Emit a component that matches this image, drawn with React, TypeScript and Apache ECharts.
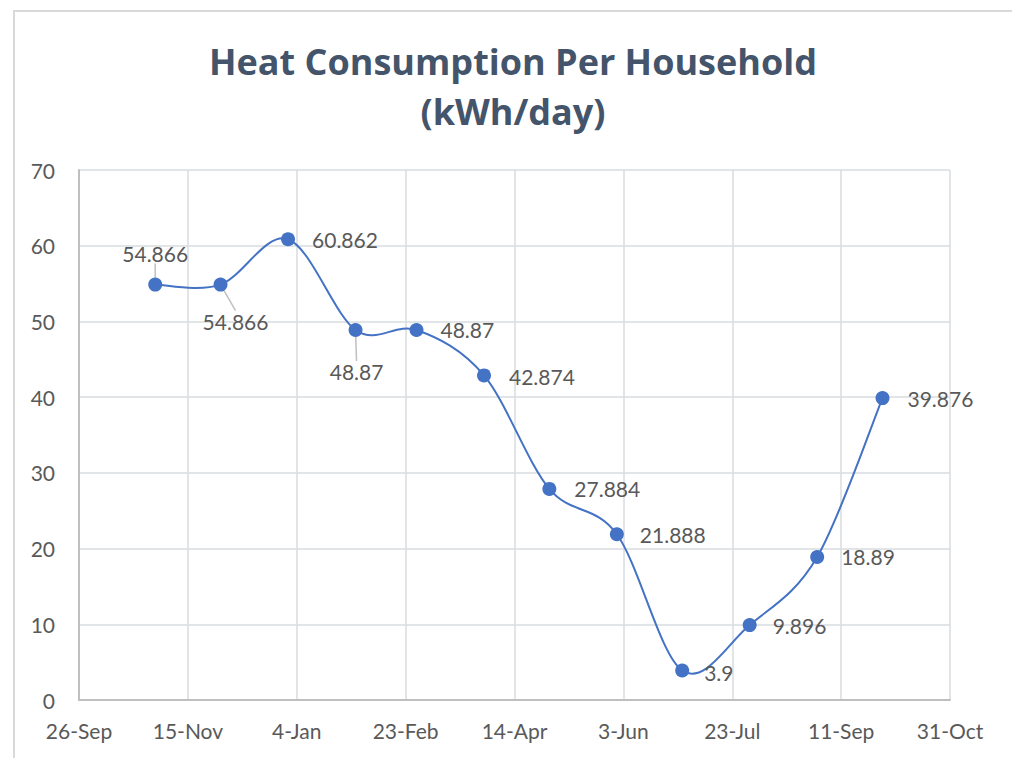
import React, { useEffect, useRef } from "react";
import * as echarts from "echarts";

// ---- data ----
const axisStartDate = "2022-09-26";
const axisTickStepDays = 50;
const axisTickCount = 8;
const readingDates = [
  "2022-10-31", "2022-11-30", "2022-12-31", "2023-01-31", "2023-02-28", "2023-03-31",
  "2023-04-30", "2023-05-31", "2023-06-30", "2023-07-31", "2023-08-31", "2023-09-30",
];
const heatValues = [54.866, 54.866, 60.862, 48.87, 48.87, 42.874, 27.884, 21.888, 3.9, 9.896, 18.89, 39.876];
const yTickValues = [0, 10, 20, 30, 40, 50, 60, 70];
const monthNames = ["Jan", "Feb", "Mar", "Apr", "May", "Jun", "Jul", "Aug", "Sep", "Oct", "Nov", "Dec"];
const titleLines = ["Heat Consumption Per Household", "(kWh/day)"];

// ---- label placement styling (not data) ----
const labelPlacement: { position: string; distance: number; dx: number; dy: number; leader: boolean }[] = [
  { position: "top", distance: 5, dx: 0, dy: -9, leader: true },
  { position: "bottom", distance: 5, dx: 15, dy: 14, leader: true },
  { position: "right", distance: 17, dx: 0, dy: 0, leader: false },
  { position: "bottom", distance: 5, dx: 1, dy: 19, leader: true },
  { position: "right", distance: 17, dx: 0, dy: 0, leader: false },
  { position: "right", distance: 18, dx: 0, dy: 1, leader: false },
  { position: "right", distance: 18, dx: 0, dy: 0, leader: false },
  { position: "right", distance: 16, dx: 0, dy: 0, leader: false },
  { position: "right", distance: 15, dx: 0, dy: 2, leader: false },
  { position: "right", distance: 16, dx: 0, dy: 0, leader: false },
  { position: "right", distance: 17, dx: 0, dy: 0, leader: false },
  { position: "right", distance: 18, dx: 0, dy: 0, leader: false },
];

const DAY = 86400000;
const toUTC = (s: string) => {
  const [y, m, d] = s.split("-").map(Number);
  return Date.UTC(y, m - 1, d);
};
const startMs = toUTC(axisStartDate);
const dayOffset = (s: string) => Math.round((toUTC(s) - startMs) / DAY);
const fmtDay = (v: number) => {
  const d = new Date(startMs + v * DAY);
  return `${d.getUTCDate()}-${monthNames[d.getUTCMonth()]}`;
};

const FONT = "Lato, 'Open Sans', sans-serif";
const TITLE_FONT = "'Open Sans', sans-serif";
const LINE_COLOR = "#4472C4";
const TEXT_COLOR = "#595959";

export default function App() {
  const ref = useRef<HTMLDivElement>(null);
  useEffect(() => {
    if (!ref.current) return;
    const chart = echarts.init(ref.current, undefined, { renderer: "svg" });
    const points = readingDates.map((d, i) => [dayOffset(d), heatValues[i]]);
    const n = points.length;
    const seriesData = points.map((pt, i) => {
      const p = labelPlacement[i];
      return {
        value: pt,
        label: { position: p.position, distance: p.distance },
        labelLine: { show: p.leader },
      };
    });
    chart.setOption({
      animation: false,
      backgroundColor: "#ffffff",
      textStyle: { fontFamily: FONT },
      graphic: [
        {
          type: "rect",
          shape: { x: 14, y: 11, width: 1100, height: 900 },
          style: { fill: "none", stroke: "#D9D9D9", lineWidth: 2 },
          silent: true,
        },
        {
          type: "text",
          x: 513,
          y: 61,
          style: {
            text: titleLines[0],
            align: "center",
            verticalAlign: "middle",
            fontSize: 36,
            fontWeight: "bold",
            fontFamily: TITLE_FONT,
            fill: "#44546A",
          },
        },
        {
          type: "text",
          x: 513,
          y: 111,
          style: {
            text: titleLines[1],
            align: "center",
            verticalAlign: "middle",
            fontSize: 36,
            fontWeight: "bold",
            fontFamily: TITLE_FONT,
            fill: "#44546A",
          },
        },
      ],
      grid: { left: 79, right: 62, top: 170, bottom: 58, containLabel: false },
      xAxis: {
        type: "value",
        min: 0,
        max: axisTickStepDays * axisTickCount,
        interval: axisTickStepDays,
        axisLine: { show: true, lineStyle: { color: "#BFBFBF", width: 2 } },
        axisTick: { show: false },
        splitLine: { show: true, lineStyle: { color: "#D9DCE1", width: 1.5 } },
        axisLabel: {
          color: TEXT_COLOR,
          fontSize: 21,
          fontFamily: FONT,
          margin: 20,
          formatter: (v: number) => fmtDay(v),
        },
      },
      yAxis: {
        type: "value",
        min: yTickValues[0],
        max: yTickValues[yTickValues.length - 1],
        interval: yTickValues[1] - yTickValues[0],
        axisLine: { show: true, lineStyle: { color: "#BFBFBF", width: 2 } },
        axisTick: { show: false },
        splitLine: { show: true, lineStyle: { color: "#D9DCE1", width: 1.5 } },
        axisLabel: { color: TEXT_COLOR, fontSize: 21, fontFamily: FONT, margin: 24 },
      },
      series: [
        {
          // smoothed connecting curve (Excel-style Catmull-Rom Bezier segments)
          type: "custom",
          data: points,
          z: 2,
          silent: true,
          renderItem: (params: any, api: any) => {
            const i = params.dataIndex;
            if (i >= n - 1) return null;
            const c = (k: number) => api.coord(points[Math.max(0, Math.min(n - 1, k))]);
            const p0 = c(i - 1);
            const p1 = c(i);
            const p2 = c(i + 1);
            const p3 = c(i + 2);
            return {
              type: "bezierCurve",
              shape: {
                x1: p1[0],
                y1: p1[1],
                cpx1: p1[0] + (p2[0] - p0[0]) / 6,
                cpy1: p1[1] + (p2[1] - p0[1]) / 6,
                cpx2: p2[0] - (p3[0] - p1[0]) / 6,
                cpy2: p2[1] - (p3[1] - p1[1]) / 6,
                x2: p2[0],
                y2: p2[1],
              },
              style: { stroke: LINE_COLOR, lineWidth: 2, fill: "none" },
            };
          },
        },
        {
          type: "line",
          data: seriesData,
          z: 3,
          symbol: "circle",
          symbolSize: 14,
          lineStyle: { opacity: 0, width: 0 },
          itemStyle: { color: LINE_COLOR },
          label: {
            show: true,
            color: TEXT_COLOR,
            fontSize: 21,
            fontFamily: FONT,
            formatter: (p: any) => String(p.value[1]),
          },
          labelLine: { lineStyle: { color: "#BFBFBF", width: 1.5 } },
          labelLayout: (params: any) => {
            const p = labelPlacement[params.dataIndex];
            return p ? { dx: p.dx, dy: p.dy } : {};
          },
        },
      ],
    });
    return () => chart.dispose();
  }, []);
  return (
    <div
      ref={ref}
      style={{ position: "fixed", left: 0, top: 0, width: 1012, height: 758 }}
    />
  );
}
